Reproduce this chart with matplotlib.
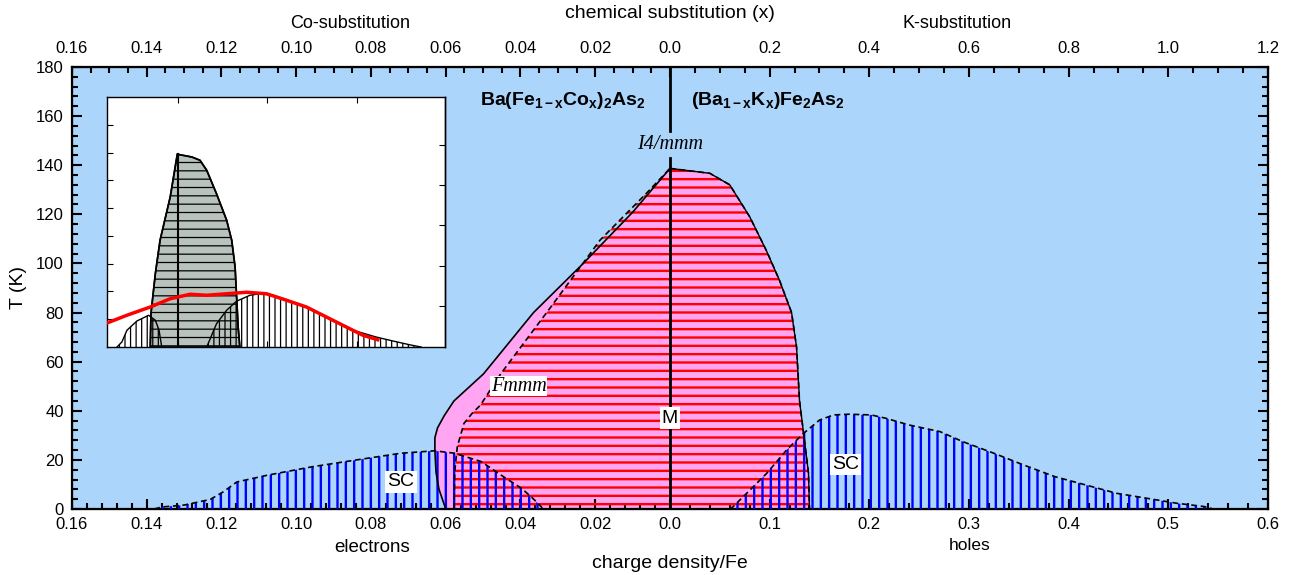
import numpy as np
import matplotlib
matplotlib.use('Agg')
import matplotlib.pyplot as plt
from matplotlib.ticker import FixedLocator

# fonts: Arial-like sans for axes, bold mathtext for the formulas
plt.rcParams['font.family'] = ['Liberation Sans', 'DejaVu Sans']
plt.rcParams['mathtext.fontset'] = 'custom'
plt.rcParams['mathtext.rm'] = 'Liberation Sans'
plt.rcParams['mathtext.bf'] = 'Liberation Sans:bold'
plt.rcParams['mathtext.it'] = 'Liberation Sans:italic'
plt.rcParams['hatch.linewidth'] = 1.7

BG_BLUE = '#ABD5FB'
PINK = '#FFA5F2'

# the x axis is split: electrons (Co side) on the left, holes (K side) on the right
E_MAX = 0.16
H_MAX = 0.6


def ex(e):
    return -np.asarray(e, dtype=float) / E_MAX


def hx(h):
    return np.asarray(h, dtype=float) / H_MAX


# ---- data (charge per Fe, temperature in K) ----
# structural transition (solid line), electron side, bottom -> top
struct_e = [0.0600, 0.0618, 0.0626, 0.0629, 0.0629, 0.0622, 0.0604, 0.0578, 0.0499, 0.0365, 0.0232, 0.0099, 0.0]
struct_T = [0, 8, 15, 24, 29, 33, 38, 44, 55, 80, 100, 121, 138.7]
# magnetic transition (dashed line), electron side, bottom -> top
mag_e = [0.0578, 0.0576, 0.0569, 0.0551, 0.0529, 0.0507, 0.0453, 0.0320, 0.0187, 0.0062, 0.0]
mag_T = [0, 15, 25.4, 34.9, 39, 42.3, 55, 82, 109.5, 128.7, 138.7]
# common boundary on the hole side, top -> bottom
hole_h = [0.0, 0.040, 0.060, 0.080, 0.097, 0.110, 0.122, 0.127, 0.130, 0.134, 0.139, 0.140]
hole_T = [138.7, 136.7, 132, 119, 105, 93, 80, 66, 44, 31, 14.6, 0]

# superconducting domes
sc_e = [0.138, 0.136, 0.130, 0.123, 0.1195, 0.1159, 0.1076, 0.0957, 0.0838, 0.072, 0.063,
        0.0576, 0.0505, 0.0446, 0.0398, 0.0368, 0.0345, 0.034]
sc_e_T = [0, 0.8, 1.6, 3.9, 7, 11, 13.8, 17.2, 20, 22.7, 23.7, 22.7, 19.3, 13.2, 8.5, 4.5, 1, 0]
sc_h = [0.060, 0.063, 0.080, 0.097, 0.117, 0.134, 0.150, 0.164, 0.180, 0.202, 0.217, 0.240,
        0.271, 0.294, 0.325, 0.355, 0.386, 0.417, 0.448, 0.478, 0.509, 0.536, 0.545]
sc_h_T = [0, 0.8, 7.6, 14.5, 24, 30.8, 36.2, 38.3, 38.6, 38.3, 36.9, 34.2, 31.5, 27.4, 22.7,
          17.9, 13.2, 9.8, 6.4, 4.4, 2.3, 1.0, 0]

# ---- inset data (relative units 0..1) ----
gray_x = [0.128, 0.130, 0.143, 0.157, 0.187, 0.208, 0.251, 0.275, 0.295, 0.324, 0.354, 0.369,
          0.379, 0.383, 0.388, 0.393]
gray_y = [0, 0.133, 0.293, 0.427, 0.600, 0.771, 0.760, 0.747, 0.707, 0.613, 0.507, 0.427,
          0.320, 0.213, 0.080, 0]
small_x = [0.0295, 0.044, 0.059, 0.0885, 0.123, 0.143, 0.154, 0.162]
small_y = [0, 0.02, 0.067, 0.104, 0.127, 0.107, 0.067, 0]
big_x = [0.295, 0.324, 0.354, 0.383, 0.423, 0.452, 0.492, 0.551, 0.610, 0.669, 0.728, 0.796,
         0.846, 0.895, 0.929]
big_y = [0, 0.093, 0.147, 0.183, 0.207, 0.213, 0.207, 0.180, 0.147, 0.107, 0.067, 0.040,
         0.024, 0.009, 0]
red_x = [0.0, 0.059, 0.128, 0.187, 0.246, 0.295, 0.354, 0.413, 0.472, 0.531, 0.590, 0.649,
         0.708, 0.757, 0.801]
red_y = [0.096, 0.127, 0.160, 0.193, 0.211, 0.207, 0.213, 0.219, 0.213, 0.187, 0.160, 0.120,
         0.080, 0.047, 0.029]

# tick values
e_major = [0.16, 0.14, 0.12, 0.10, 0.08, 0.06, 0.04, 0.02]
h_major = [0.1, 0.2, 0.3, 0.4, 0.5, 0.6]
co_major = [0.16, 0.14, 0.12, 0.10, 0.08, 0.06, 0.04, 0.02]
k_major = [0.2, 0.4, 0.6, 0.8, 1.0, 1.2]

fig = plt.figure(figsize=(12.97, 5.75), dpi=100)
ax = fig.add_axes([0.0555, 0.1148, 0.9221, 0.7687])
ax.set_facecolor(BG_BLUE)
ax.set_xlim(-1, 1)
ax.set_ylim(0, 180)

# pink region (orthorhombic), red hatched (magnetic)
ax.fill(np.concatenate([ex(struct_e), hx(hole_h)]), struct_T + hole_T,
        facecolor=PINK, edgecolor='none', zorder=1)
ax.fill(np.concatenate([ex(mag_e), hx(hole_h)]), mag_T + hole_T,
        facecolor='none', edgecolor='red', hatch='--', lw=0, zorder=2)

# SC domes
ax.fill(ex(sc_e), sc_e_T, facecolor='none', edgecolor='blue', hatch='||', lw=0, zorder=3)
ax.fill(hx(sc_h), sc_h_T, facecolor='none', edgecolor='blue', hatch='||', lw=0, zorder=3)

dash = (0, (3.5, 2.2))
ax.plot(ex(struct_e), struct_T, color='black', lw=1.2, zorder=4)
ax.plot(hx(hole_h), hole_T, color='black', lw=1.0, zorder=4)
ax.plot(hx(hole_h), hole_T, color='black', lw=1.2, ls=dash, zorder=4)
ax.plot(ex(mag_e), mag_T, color='black', lw=1.2, ls=dash, zorder=4)
ax.plot(ex(sc_e), sc_e_T, color='black', lw=1.2, ls=dash, zorder=4)
ax.plot(hx(sc_h), sc_h_T, color='black', lw=1.2, ls=dash, zorder=4)

# centre line, broken at the I4/mmm label
ax.plot([0, 0], [0, 143], color='black', lw=2, zorder=5)
ax.plot([0, 0], [154, 180], color='black', lw=2, zorder=5)

box = dict(facecolor='white', edgecolor='none', pad=1.5)
ax.text(0, 37, 'M', fontsize=14, ha='center', va='center', bbox=box, zorder=6)
ax.text(ex(0.072), 11, 'SC', fontsize=14, ha='center', va='center', bbox=box, zorder=6)
ax.text(hx(0.176), 18, 'SC', fontsize=14, ha='center', va='center', bbox=box, zorder=6)
ax.text(ex(0.0405), 50, 'Fmmm', fontsize=14.5, family='Liberation Serif', style='italic',
        ha='center', va='center', bbox=dict(facecolor='white', edgecolor='none', pad=0.5), zorder=6)
ax.text(0, 148.5, 'I4/mmm', fontsize=14.5, family='Liberation Serif', style='italic',
        ha='center', va='center', zorder=6)
ax.text(-0.04, 166.5, r'$\mathbf{Ba(Fe_{1-x}Co_{x})_{2}As_{2}}$', fontsize=14,
        ha='right', va='center', zorder=6)
ax.text(0.035, 166.5, r'$\mathbf{(Ba_{1-x}K_{x})Fe_{2}As_{2}}$', fontsize=14,
        ha='left', va='center', zorder=6)

# bottom axis ticks
bot_pos = list(ex(e_major)) + [0.0] + list(hx(h_major))
bot_lab = ['%.2f' % v for v in e_major] + ['0.0'] + ['%.1f' % v for v in h_major]
ax.set_xticks(bot_pos)
ax.set_xticklabels(bot_lab)
e_minor = [v for v in np.arange(0.004, 0.1601, 0.004) if abs(v / 0.02 - round(v / 0.02)) > 1e-6]
h_minor = [v for v in np.arange(0.02, 0.6001, 0.02) if abs(v / 0.1 - round(v / 0.1)) > 1e-6]
ax.xaxis.set_minor_locator(FixedLocator(list(ex(e_minor)) + list(hx(h_minor))))
ax.set_yticks(np.arange(0, 181, 20))
ax.yaxis.set_minor_locator(FixedLocator(np.arange(0, 181, 4)))
ax.tick_params(which='both', direction='in', top=False, right=True, width=1.5,
               labelsize=12, pad=6)
ax.tick_params(which='major', length=7)
ax.tick_params(which='minor', length=4)
for s in ax.spines.values():
    s.set_linewidth(1.6)
ax.set_ylabel('T (K)', fontsize=14, labelpad=6)

# top axis: chemical substitution
ax2 = ax.twiny()
ax2.set_xlim(-1, 1)
top_pos = list(ex(co_major)) + [0.0] + list(np.asarray(k_major) / 1.2)
top_lab = ['%.2f' % v for v in co_major] + ['0.0'] + ['%.1f' % v for v in k_major]
ax2.set_xticks(top_pos)
ax2.set_xticklabels(top_lab)
co_minor = [v for v in np.arange(0.005, 0.1601, 0.005) if abs(v / 0.02 - round(v / 0.02)) > 1e-6]
k_minor = [v for v in np.arange(0.05, 1.2001, 0.05) if abs(v / 0.2 - round(v / 0.2)) > 1e-6]
ax2.xaxis.set_minor_locator(FixedLocator(list(ex(co_minor)) + list(np.asarray(k_minor) / 1.2)))
ax2.tick_params(which='both', direction='in', width=1.5, labelsize=12, pad=8)
ax2.tick_params(which='major', length=7)
ax2.tick_params(which='minor', length=4)

W, H = 1297, 575
fig.text(670 / W, 1 - 14 / H, 'chemical substitution (x)', fontsize=14, ha='center', va='center')
fig.text(350 / W, 1 - 23 / H, 'Co-substitution', fontsize=13, ha='center', va='center')
fig.text(957 / W, 1 - 23 / H, 'K-substitution', fontsize=13, ha='center', va='center')
fig.text(372 / W, 1 - 548 / H, 'electrons', fontsize=13.5, ha='center', va='center')
fig.text(970 / W, 1 - 545 / H, 'holes', fontsize=12.5, ha='center', va='center')
fig.text(670 / W, 1 - 563 / H, 'charge density/Fe', fontsize=14, ha='center', va='center')

# inset
axi = fig.add_axes([107 / W, 1 - 347 / H, 338 / W, 250 / H])
axi.set_facecolor('white')
axi.set_xlim(0, 1)
axi.set_ylim(0, 1)
with plt.rc_context({'hatch.linewidth': 0.9}):
    axi.fill(gray_x, gray_y, facecolor='#B9C3BD', edgecolor='black', lw=1.2, zorder=1)
    axi.fill(gray_x, gray_y, facecolor='none', edgecolor='black', hatch='--', lw=0, zorder=2)
    axi.fill(small_x, small_y, facecolor='none', edgecolor='black', hatch='|||', lw=0, zorder=2)
    axi.fill(big_x, big_y, facecolor='none', edgecolor='black', hatch='|||', lw=0, zorder=2)
axi.plot(small_x, small_y, color='black', lw=1, zorder=3)
axi.plot(big_x, big_y, color='black', lw=1, zorder=3)
axi.plot(gray_x, gray_y, color='black', lw=1.2, zorder=3)
axi.plot([0.211, 0.211], [0, 0.771], color='black', lw=1.5, zorder=3)
axi.plot(red_x, red_y, color='red', lw=2.5, zorder=4)
axi.set_xticks([0.21, 0.473, 0.74])
axi.set_yticks(np.arange(1, 9) / 9)
axi.tick_params(direction='in', top=True, bottom=True, right=False, length=4,
                labelbottom=False, labelleft=False)
sec = axi.secondary_yaxis('right')
sec.set_yticks([0.164, 0.324, 0.487, 0.647, 0.807])
sec.tick_params(direction='in', length=4, labelright=False)
for s in list(axi.spines.values()) + [sec.spines['right']]:
    s.set_linewidth(1.0)

fig.savefig('out.png', dpi=100)
